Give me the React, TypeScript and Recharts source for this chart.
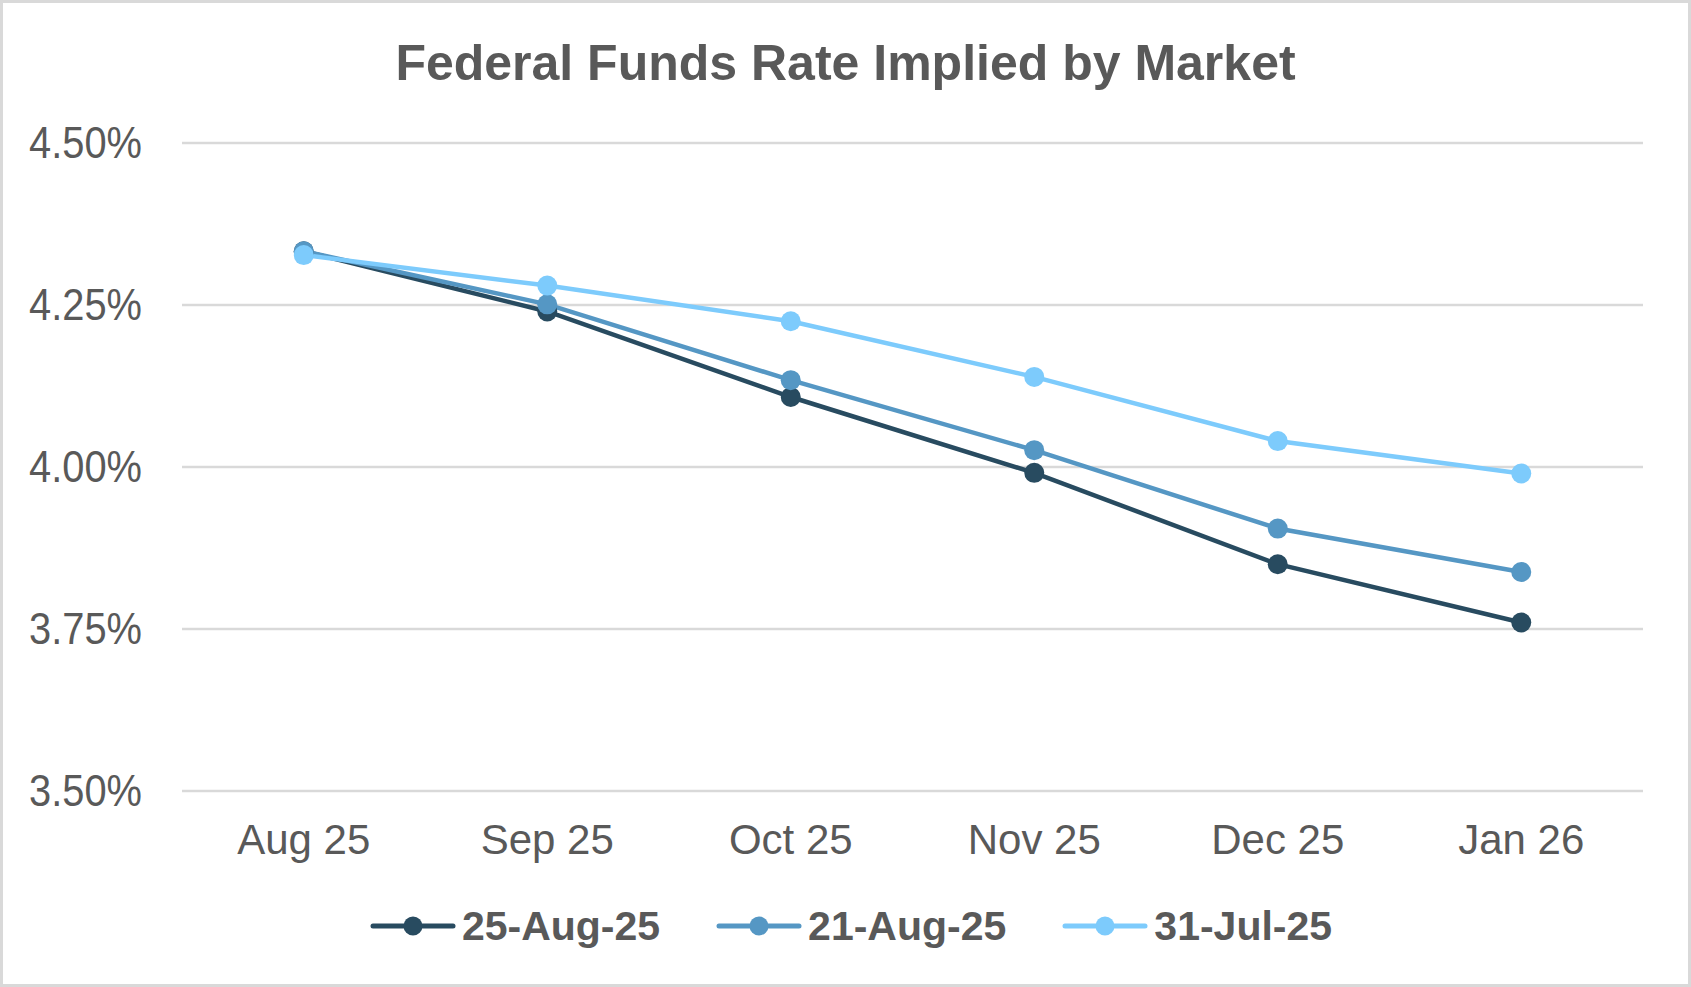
import React from 'react';
import { LineChart, Line, XAxis, YAxis, CartesianGrid, Legend } from 'recharts';

const months = ['Aug 25', 'Sep 25', 'Oct 25', 'Nov 25', 'Dec 25', 'Jan 26'];
const aug25 = [4.333, 4.24, 4.108, 3.991, 3.85, 3.76];
const aug21 = [4.333, 4.251, 4.134, 4.026, 3.905, 3.838];
const jul31 = [4.327, 4.28, 4.225, 4.139, 4.04, 3.99];
const yTicks = [3.5, 3.75, 4.0, 4.25, 4.5];

const series = [
  { key: 'aug25', name: '25-Aug-25', color: '#284B60' },
  { key: 'aug21', name: '21-Aug-25', color: '#5597C4' },
  { key: 'jul31', name: '31-Jul-25', color: '#7DCBFC' },
];

const data = months.map((m, i) => ({ month: m, aug25: aug25[i], aug21: aug21[i], jul31: jul31[i] }));

const TEXT = '#595959';
const FONT = 'Arial, "Liberation Sans", sans-serif';

const YTick = (props: any) => {
  const { x, y, payload } = props;
  return (
    <text
      x={x}
      y={y}
      dy="0.33em"
      textAnchor="end"
      fill={TEXT}
      fontSize={44}
      fontFamily={FONT}
      textLength={113}
      lengthAdjust="spacingAndGlyphs"
    >
      {payload.value.toFixed(2) + '%'}
    </text>
  );
};

const LegendContent = () => (
  <div style={{ display: 'flex', justifyContent: 'center', alignItems: 'center', height: 40, paddingLeft: 56 }}>
    {series.map((s) => (
      <div key={s.key} style={{ display: 'flex', alignItems: 'center', margin: '0 28px' }}>
        <svg width={86} height={24}>
          <line x1={3} y1={12} x2={83} y2={12} stroke={s.color} strokeWidth={5} strokeLinecap="round" />
          <circle cx={43} cy={12} r={9.5} fill={s.color} />
        </svg>
        <span style={{ marginLeft: 6, fontSize: 41, fontWeight: 'bold', color: TEXT, fontFamily: FONT, lineHeight: '40px' }}>
          {s.name}
        </span>
      </div>
    ))}
  </div>
);

export default function App() {
  return (
    <>
      <style>{'body{margin:0}'}</style>
      <div
        style={{
          position: 'relative',
          width: 1691,
          height: 987,
          boxSizing: 'border-box',
          border: '3px solid #D9D9D9',
          background: '#fff',
          fontFamily: FONT,
        }}
      >
        <div
          style={{
            position: 'absolute',
            top: 35,
            left: 0,
            width: '100%',
            textAlign: 'center',
            fontSize: 50,
            lineHeight: '50px',
            fontWeight: 'bold',
            color: TEXT,
          }}
        >
          Federal Funds Rate Implied by Market
        </div>
        <div style={{ position: 'absolute', left: 0, top: 0 }}>
          <LineChart width={1685} height={981} data={data} margin={{ top: 140, right: 45, bottom: 38, left: 0 }}>
            <CartesianGrid vertical={false} stroke="#D9D9D9" strokeWidth={2.5} />
            <XAxis
              dataKey="month"
              axisLine={false}
              tickLine={false}
              tickSize={0}
              tickMargin={33}
              height={115}
              padding={{ left: 121.75, right: 121.75 }}
              tick={{ fontSize: 42, fill: TEXT, fontFamily: FONT }}
              interval={0}
            />
            <YAxis
              type="number"
              domain={[3.5, 4.5]}
              ticks={yTicks}
              width={179}
              axisLine={false}
              tickLine={false}
              tickSize={0}
              tickMargin={40}
              tick={<YTick />}
            />
            <Legend verticalAlign="bottom" content={<LegendContent />} />
            {series.map((s) => (
              <Line
                key={s.key}
                type="linear"
                dataKey={s.key}
                name={s.name}
                stroke={s.color}
                strokeWidth={4.5}
                dot={{ r: 10, fill: s.color, stroke: 'none' }}
                activeDot={false}
                isAnimationActive={false}
              />
            ))}
          </LineChart>
        </div>
      </div>
    </>
  );
}
